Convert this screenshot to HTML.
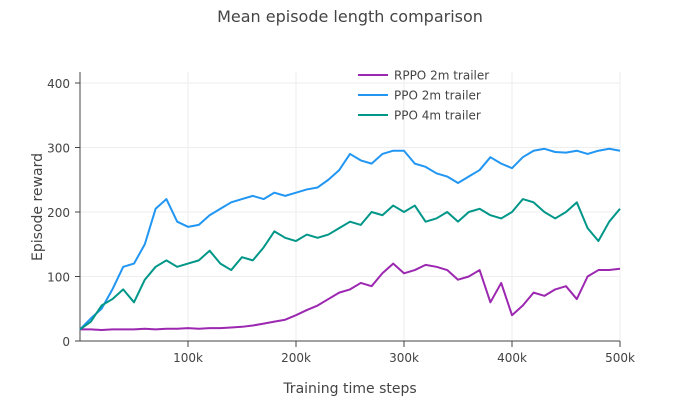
<!DOCTYPE html>
<html><head><meta charset="utf-8"><style>
body{margin:0;background:#fff;font-family:"DejaVu Sans",sans-serif}
svg text{font-family:"DejaVu Sans",sans-serif;fill:#444}
</style></head><body>
<svg id="c" width="700" height="401"></svg>
<script>
const steps=[0,10,20,30,40,50,60,70,80,90,100,110,120,130,140,150,160,170,180,190,200,210,220,230,240,250,260,270,280,290,300,310,320,330,340,350,360,370,380,390,400,410,420,430,440,450,460,470,480,490,500];
const ppo2=[18,35,50,80,115,120,150,205,220,185,177,180,195,205,215,220,225,220,230,225,230,235,238,250,265,290,280,275,290,295,295,275,270,260,255,245,255,265,285,275,268,285,295,298,293,292,295,290,295,298,295];
const ppo4=[18,30,55,65,80,60,95,115,125,115,120,125,140,120,110,130,125,145,170,160,155,165,160,165,175,185,180,200,195,210,200,210,185,190,200,185,200,205,195,190,200,220,215,200,190,200,215,175,155,185,205];
const rppo=[18,18,17,18,18,18,19,18,19,19,20,19,20,20,21,22,24,27,30,33,40,48,55,65,75,80,90,85,105,120,105,110,118,115,110,95,100,110,60,90,40,55,75,70,80,85,65,100,110,110,112];
const yTicks=[0,100,200,300,400];
const xTicks=[100,200,300,400,500];
const NS="http://www.w3.org/2000/svg";
const svg=document.getElementById('c');
const X=k=>80+k*1.08, Y=v=>341-v*0.645;
function mk(t,a,p){const e=document.createElementNS(NS,t);for(const k in a)e.setAttribute(k,a[k]);(p||svg).appendChild(e);return e;}
yTicks.forEach(v=>{
 const g=mk('line',{x1:80,x2:620,y1:Y(v),y2:Y(v),stroke:'#eee'});
 
 
 const t=mk('text',{x:70,y:Y(v)+5,'text-anchor':'end','font-size':12});t.textContent=v;
 
 
 mk('line',{x1:75,x2:80,y1:Y(v),y2:Y(v),stroke:'#444'});
});
xTicks.forEach(v=>{
 const g=mk('line',{x1:X(v),x2:X(v),y1:72,y2:341,stroke:'#eee'});
 
 
 mk('line',{x1:X(v),x2:X(v),y1:341,y2:347,stroke:'#444'});
 const t=mk('text',{x:X(v),y:362,'text-anchor':'middle','font-size':12});t.textContent=v+'k';
 
 
});
const ax=mk('path',{d:'M80 72V341H620',fill:'none',stroke:'#444'});


function line(d,c,n){const p=mk('path',{d:d.map((v,i)=>(i?'L':'M')+X(steps[i])+' '+Y(v)).join(''),fill:'none',stroke:c,'stroke-width':2,'stroke-linejoin':'round'});
 
 }
line(rppo,'#9c27b0','line-rppo-2m');
line(ppo2,'#2196f3','line-ppo-2m');
line(ppo4,'#009688','line-ppo-4m');
[['RPPO 2m trailer','#9c27b0',75],['PPO 2m trailer','#2196f3',95],['PPO 4m trailer','#009688',115]].forEach(([n,c,y])=>{
 const g=mk('g',{});
 
 
 mk('line',{x1:358,x2:388,y1:y,y2:y,stroke:c,'stroke-width':2},g);
 const t=mk('text',{x:394,y:y+4.5,'font-size':12},g);t.textContent=n;
});
const ti=mk('text',{x:350,y:22,'text-anchor':'middle','font-size':16});ti.textContent='Mean episode length comparison';


const xt=mk('text',{x:350,y:393,'text-anchor':'middle','font-size':14});xt.textContent='Training time steps';


const yt=mk('text',{x:0,y:0,'text-anchor':'middle','font-size':14,transform:'translate(42,207) rotate(-90)'});yt.textContent='Episode reward';


</script>
</body></html>
